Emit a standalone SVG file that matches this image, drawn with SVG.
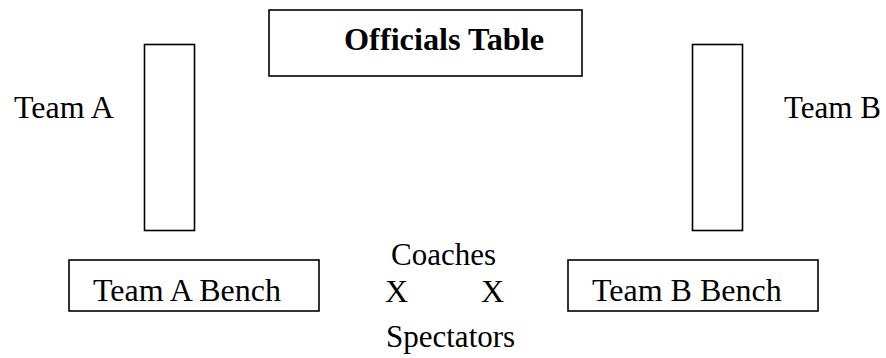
<svg xmlns="http://www.w3.org/2000/svg" width="886" height="358" viewBox="0 0 886 358">
<style>
.box{fill:#fff;stroke:#000;stroke-width:1.6}
.t{font-family:"Liberation Serif","Times New Roman",serif;font-size:32px;fill:#000}
.s{font-size:31px}
.b{font-weight:bold;font-size:32.3px}
</style>
<rect width="886" height="358" fill="#fff"/>
<g id="officials-table">
<rect class="box" x="269" y="10" width="313" height="66"/>
<text class="t b" x="344" y="50">Officials Table</text>
</g>
<g id="team-a">
<rect class="box" x="144.5" y="44.5" width="50" height="186"/>
<text class="t" x="14" y="118">Team A</text>
</g>
<g id="team-b">
<rect class="box" x="692.5" y="44.5" width="50" height="186"/>
<text class="t s" x="784" y="118">Team B</text>
</g>
<g id="team-a-bench">
<rect class="box" x="69" y="260" width="250" height="51"/>
<text class="t" x="93" y="301">Team A Bench</text>
</g>
<g id="team-b-bench">
<rect class="box" x="568" y="260" width="250" height="51"/>
<text class="t" x="592" y="301">Team B Bench</text>
</g>
<g id="coaches">
<text class="t s" x="391" y="265">Coaches</text>
<text class="t" x="385" y="302">X</text>
<text class="t" x="481" y="302">X</text>
</g>
<g id="spectators">
<text class="t s" x="386" y="347">Spectators</text>
</g>
<g id="connectors"/>
</svg>
